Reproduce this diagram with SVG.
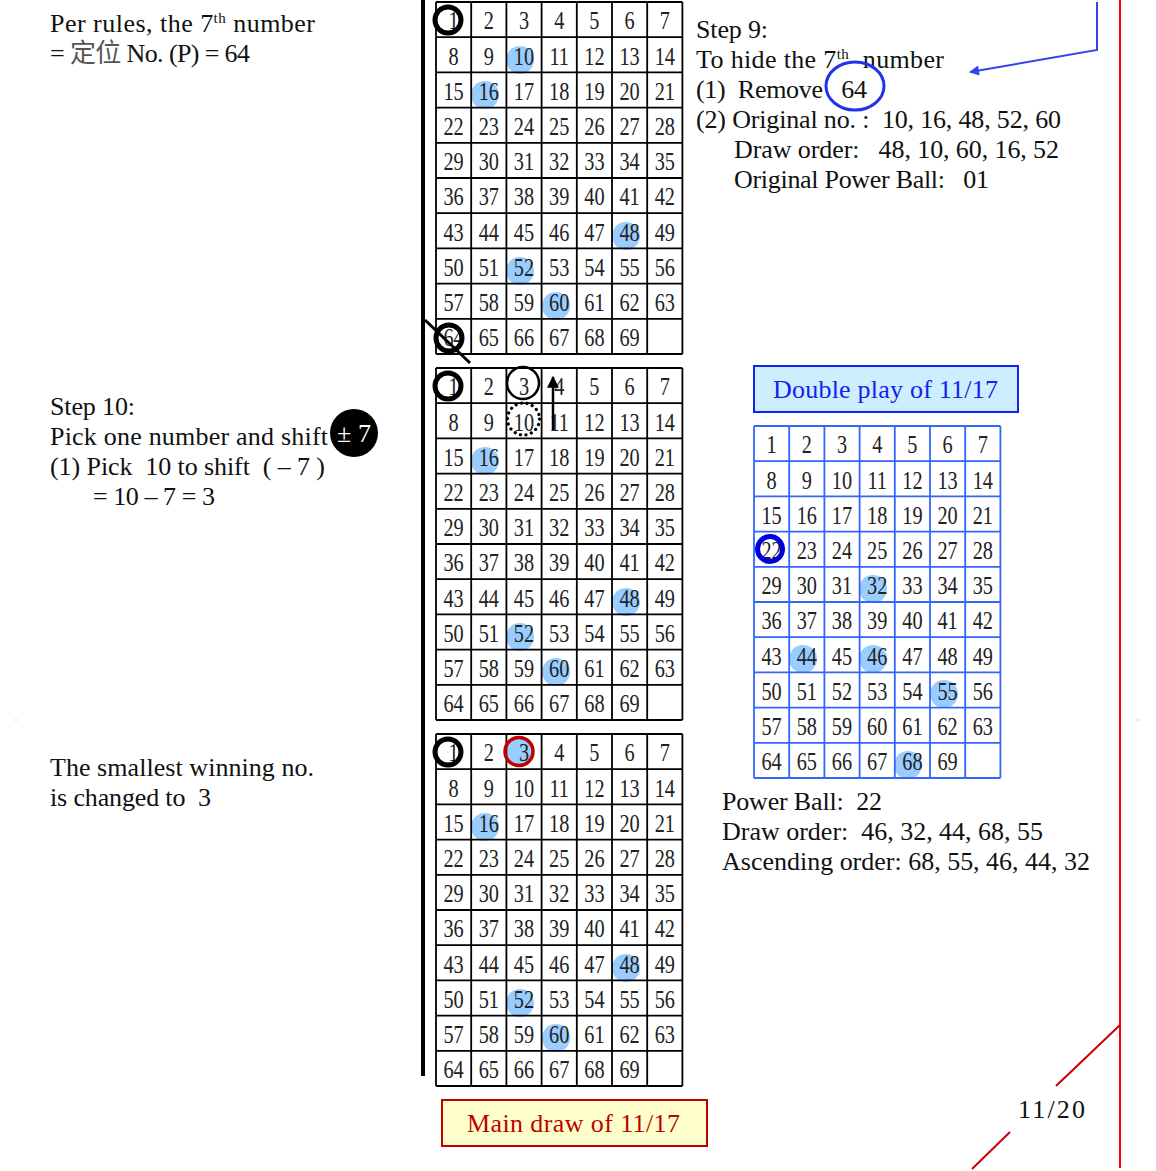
<svg xmlns="http://www.w3.org/2000/svg" xmlns:xlink="http://www.w3.org/1999/xlink" width="1156" height="1171" viewBox="0 0 1156 1171" xml:space="preserve">
<style>
.t{font-family:"Liberation Serif","Noto Sans CJK TC",serif;font-size:26px;fill:#111;white-space:pre}
.n{font-family:"Liberation Serif",serif;font-size:26px;fill:#222;text-anchor:middle}
.hl{fill:#99ccff}
.sup{font-size:15px}
</style>
<defs>
<path id="lines" fill="none" stroke-width="1.8" d="M0,0H246.4M0,35.2H246.4M0,70.4H246.4M0,105.6H246.4M0,140.8H246.4M0,176H246.4M0,211.2H246.4M0,246.4H246.4M0,281.6H246.4M0,316.8H246.4M0,352H246.4M0,0V352M35.2,0V352M70.4,0V352M105.6,0V352M140.8,0V352M176,0V352M211.2,0V352M246.4,0V352"/>
<g id="nums" transform="scale(0.78 1)">
<text class="n" y="27.5"><tspan x="22.56">1</tspan><tspan x="67.69">2</tspan><tspan x="112.82">3</tspan><tspan x="157.95">4</tspan><tspan x="203.08">5</tspan><tspan x="248.21">6</tspan><tspan x="293.33">7</tspan></text>
<text class="n" y="62.7"><tspan x="22.56">8</tspan><tspan x="67.69">9</tspan><tspan x="112.82">10</tspan><tspan x="157.95">11</tspan><tspan x="203.08">12</tspan><tspan x="248.21">13</tspan><tspan x="293.33">14</tspan></text>
<text class="n" y="97.9"><tspan x="22.56">15</tspan><tspan x="67.69">16</tspan><tspan x="112.82">17</tspan><tspan x="157.95">18</tspan><tspan x="203.08">19</tspan><tspan x="248.21">20</tspan><tspan x="293.33">21</tspan></text>
<text class="n" y="133.1"><tspan x="22.56">22</tspan><tspan x="67.69">23</tspan><tspan x="112.82">24</tspan><tspan x="157.95">25</tspan><tspan x="203.08">26</tspan><tspan x="248.21">27</tspan><tspan x="293.33">28</tspan></text>
<text class="n" y="168.3"><tspan x="22.56">29</tspan><tspan x="67.69">30</tspan><tspan x="112.82">31</tspan><tspan x="157.95">32</tspan><tspan x="203.08">33</tspan><tspan x="248.21">34</tspan><tspan x="293.33">35</tspan></text>
<text class="n" y="203.5"><tspan x="22.56">36</tspan><tspan x="67.69">37</tspan><tspan x="112.82">38</tspan><tspan x="157.95">39</tspan><tspan x="203.08">40</tspan><tspan x="248.21">41</tspan><tspan x="293.33">42</tspan></text>
<text class="n" y="238.7"><tspan x="22.56">43</tspan><tspan x="67.69">44</tspan><tspan x="112.82">45</tspan><tspan x="157.95">46</tspan><tspan x="203.08">47</tspan><tspan x="248.21">48</tspan><tspan x="293.33">49</tspan></text>
<text class="n" y="273.9"><tspan x="22.56">50</tspan><tspan x="67.69">51</tspan><tspan x="112.82">52</tspan><tspan x="157.95">53</tspan><tspan x="203.08">54</tspan><tspan x="248.21">55</tspan><tspan x="293.33">56</tspan></text>
<text class="n" y="309.1"><tspan x="22.56">57</tspan><tspan x="67.69">58</tspan><tspan x="112.82">59</tspan><tspan x="157.95">60</tspan><tspan x="203.08">61</tspan><tspan x="248.21">62</tspan><tspan x="293.33">63</tspan></text>
<text class="n" y="344.3"><tspan x="22.56">64</tspan><tspan x="67.69">65</tspan><tspan x="112.82">66</tspan><tspan x="157.95">67</tspan><tspan x="203.08">68</tspan><tspan x="248.21">69</tspan></text>
</g>
<marker id="ahBlue" viewBox="0 0 10 10" refX="9" refY="5" markerWidth="11" markerHeight="10" orient="auto-start-reverse" markerUnits="userSpaceOnUse"><path d="M0,0L10,5L0,10z" fill="#3344ee"/></marker>
<marker id="ahBlack" viewBox="0 0 10 10" refX="9" refY="5" markerWidth="12" markerHeight="12" orient="auto-start-reverse" markerUnits="userSpaceOnUse"><path d="M0,0L10,5L0,10z" fill="#000"/></marker>
</defs>
<rect width="1156" height="1171" fill="#fff"/>
<g id="text-rules">
<text class="t" x="50" y="32" textLength="265" lengthAdjust="spacing">Per rules, the 7<tspan class="sup" dy="-9">th</tspan><tspan dy="9"> number</tspan></text>
<text class="t" x="50" y="62" textLength="200" lengthAdjust="spacing">= <tspan fill="#555">定位</tspan> No. (P) = 64</text>
</g>
<g id="text-step10">
<text class="t" x="50" y="415" textLength="85" lengthAdjust="spacing">Step 10:</text>
<text class="t" x="50" y="445" textLength="278" lengthAdjust="spacing">Pick one number and shift</text>
<text class="t" x="50" y="475" textLength="275" lengthAdjust="spacing">(1) Pick  10 to shift  ( – 7 )</text>
<text class="t" x="93" y="505" textLength="122" lengthAdjust="spacing">= 10 – 7 = 3</text>
<circle cx="354" cy="433" r="24" fill="#000"/>
<text class="t" x="354" y="442" text-anchor="middle" style="fill:#fff">± 7</text>
</g>
<g id="text-smallest">
<text class="t" x="50" y="776" textLength="264" lengthAdjust="spacing">The smallest winning no.</text>
<text class="t" x="50" y="806" textLength="161" lengthAdjust="spacing">is changed to  3</text>
</g>
<g id="text-step9">
<text class="t" x="696" y="38" textLength="72" lengthAdjust="spacing">Step 9:</text>
<text class="t" x="696" y="68" textLength="248" lengthAdjust="spacing">To hide the 7<tspan class="sup" dy="-9">th</tspan><tspan dy="9">  number</tspan></text>
<text class="t" x="696" y="98" textLength="171" lengthAdjust="spacing">(1)  Remove   64</text>
<text class="t" x="696" y="128" textLength="365" lengthAdjust="spacing">(2) Original no. :  10, 16, 48, 52, 60</text>
<text class="t" x="734" y="158" textLength="325" lengthAdjust="spacing">Draw order:   48, 10, 60, 16, 52</text>
<text class="t" x="734" y="188" textLength="255" lengthAdjust="spacing">Original Power Ball:   01</text>
<ellipse cx="855" cy="86" rx="29" ry="24" fill="none" stroke="#2233ee" stroke-width="3"/>
</g>
<line x1="423" y1="0" x2="423" y2="1076" stroke="#000" stroke-width="4"/>
<g id="grid-top" transform="translate(436,2)">
<circle class="hl" cx="84" cy="58" r="14"/>
<circle class="hl" cx="49" cy="93" r="14"/>
<circle class="hl" cx="190" cy="234" r="14"/>
<circle class="hl" cx="84" cy="269" r="14"/>
<circle class="hl" cx="120" cy="304" r="14"/>
<use xlink:href="#lines" stroke="#000"/>
<use xlink:href="#nums"/>
<circle cx="12" cy="18" r="13" fill="none" stroke="#000" stroke-width="5"/>
<circle cx="13" cy="336" r="13" fill="none" stroke="#000" stroke-width="5"/>
<line x1="-11" y1="318" x2="34" y2="361" stroke="#000" stroke-width="3"/>
</g>
<g id="grid-mid" transform="translate(436,368)">
<circle class="hl" cx="49" cy="93" r="14"/>
<circle class="hl" cx="190" cy="234" r="14"/>
<circle class="hl" cx="84" cy="269" r="14"/>
<circle class="hl" cx="120" cy="304" r="14"/>
<use xlink:href="#lines" stroke="#000"/>
<use xlink:href="#nums"/>
<circle cx="12" cy="18" r="13" fill="none" stroke="#000" stroke-width="5"/>
<circle cx="87" cy="15" r="16" fill="none" stroke="#000" stroke-width="2.5"/>
<circle cx="87.5" cy="51" r="16" fill="none" stroke="#000" stroke-width="3.2" stroke-dasharray="0.1 5.5" stroke-linecap="round"/>
<line x1="117" y1="62" x2="117" y2="9" stroke="#000" stroke-width="2.5" marker-end="url(#ahBlack)"/>
</g>
<g id="grid-bottom" transform="translate(436,734)">
<circle class="hl" cx="83" cy="18" r="14"/>
<circle class="hl" cx="49" cy="93" r="14"/>
<circle class="hl" cx="190" cy="234" r="14"/>
<circle class="hl" cx="84" cy="269" r="14"/>
<circle class="hl" cx="120" cy="304" r="14"/>
<use xlink:href="#lines" stroke="#000"/>
<use xlink:href="#nums"/>
<circle cx="12" cy="18" r="13" fill="none" stroke="#000" stroke-width="5"/>
<circle cx="83" cy="17.5" r="14" fill="none" stroke="#c00000" stroke-width="3.5"/>
</g>
<g id="label-main">
<rect x="442" y="1100" width="265" height="46" fill="#ffffcc" stroke="#c00000" stroke-width="2"/>
<text class="t" x="467" y="1132" textLength="213" lengthAdjust="spacing" style="fill:#c00000">Main draw of 11/17</text>
</g>
<g id="label-double">
<rect x="754" y="366" width="264" height="46" fill="#cceeff" stroke="#1122ee" stroke-width="2"/>
<text class="t" x="773" y="398" textLength="225" lengthAdjust="spacing" style="fill:#1122ee">Double play of 11/17</text>
</g>
<g id="grid-right" transform="translate(754,426)">
<circle class="hl" cx="119" cy="163" r="14"/>
<circle class="hl" cx="49" cy="233" r="14"/>
<circle class="hl" cx="119" cy="233" r="14"/>
<circle class="hl" cx="190" cy="268" r="14"/>
<circle class="hl" cx="154" cy="339" r="14"/>
<use xlink:href="#lines" stroke="#3366ff"/>
<use xlink:href="#nums"/>
<circle cx="16" cy="123" r="12.5" fill="none" stroke="#0000dd" stroke-width="5"/>
</g>
<g id="text-powerball">
<text class="t" x="722" y="810" textLength="160" lengthAdjust="spacing">Power Ball:  22</text>
<text class="t" x="722" y="840" textLength="321" lengthAdjust="spacing">Draw order:  46, 32, 44, 68, 55</text>
<text class="t" x="722" y="870" textLength="368" lengthAdjust="spacing">Ascending order: 68, 55, 46, 44, 32</text>
</g>
<g id="connectors">
<polyline points="1097,2 1097,50 970,72" fill="none" stroke="#3344ee" stroke-width="2" marker-end="url(#ahBlue)"/>
<line x1="1120" y1="0" x2="1120" y2="1168" stroke="#ff0000" stroke-width="2"/>
<line x1="1120" y1="1025" x2="1056" y2="1086" stroke="#cc0000" stroke-width="2"/>
<line x1="1010" y1="1132" x2="972" y2="1169" stroke="#cc0000" stroke-width="2"/>
</g>
<g id="text-date">
<text class="t" x="1018" y="1118" textLength="67" lengthAdjust="spacing">11/20</text>
</g>
<rect x="15" y="719" width="2" height="2" fill="#bfeee6"/>
<rect x="1137" y="719" width="2" height="2" fill="#bfeee6"/>
</svg>
